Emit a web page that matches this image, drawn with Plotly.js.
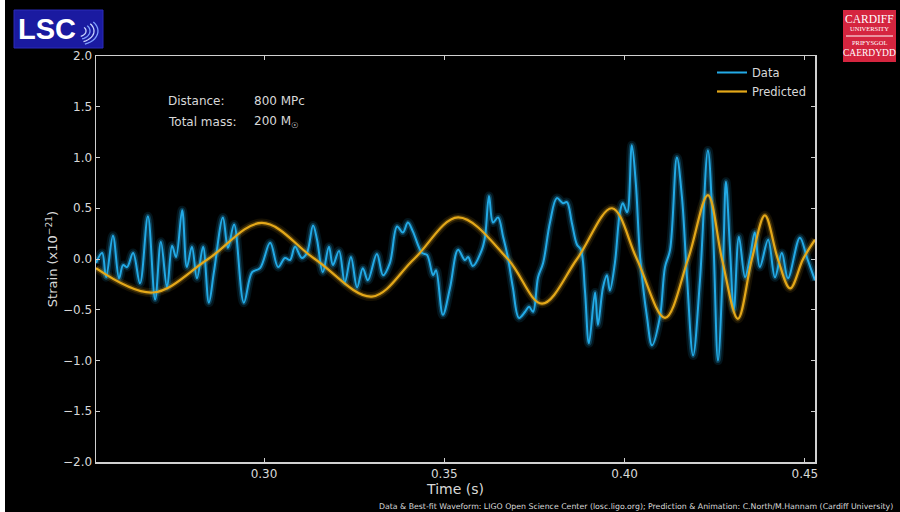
<!DOCTYPE html>
<html>
<head>
<meta charset="utf-8">
<script src="https://cdn.plot.ly/plotly-3.0.1.min.js"></script>
<style>
  html, body { margin: 0; padding: 0; background: #ffffff; }
  #chart { position: absolute; left: 5px; top: 0; width: 895px; height: 512px; background: #000; }
</style>
</head>
<body>
<div id="chart"></div>
<script>
// ---- Data ----
const dataTime = [
  0.2534,0.2551,0.2562,0.2581,0.2598,0.2609,0.2620,0.2637,0.2656,0.2678,
  0.2698,0.2714,0.2731,0.2745,0.2756,0.2773,0.2786,0.2800,0.2814,0.2831,
  0.2847,0.2861,0.2886,0.2900,0.2917,0.2944,0.2967,0.2989,0.3017,0.3039,
  0.3058,0.3072,0.3086,0.3105,0.3119,0.3136,0.3147,0.3163,0.3180,0.3191,
  0.3208,0.3224,0.3241,0.3258,0.3274,0.3288,0.3313,0.3330,0.3349,0.3369,
  0.3385,0.3399,0.3413,0.3438,0.3452,0.3469,0.3477,0.3496,0.3516,0.3538,
  0.3557,0.3566,0.3579,0.3604,0.3613,0.3624,0.3635,0.3649,0.3663,0.3676,
  0.3690,0.3707,0.3724,0.3735,0.3746,0.3760,0.3774,0.3793,0.3812,0.3829,
  0.3840,0.3854,0.3868,0.3879,0.3890,0.3901,0.3918,0.3926,0.3940,0.3951,
  0.3959,0.3973,0.3987,0.3995,0.4007,0.4020,0.4031,0.4043,0.4062,0.4076,
  0.4098,0.4112,0.4126,0.4145,0.4159,0.4173,0.4190,0.4209,0.4231,0.4245,
  0.4259,0.4273,0.4281,0.4292,0.4303,0.4317,0.4334,0.4348,0.4361,0.4375,
  0.4398,0.4417,0.4436,0.4453,0.4486,0.4506,0.4528
];
const dataStrain = [
  -0.04,0.06,-0.18,0.23,-0.19,-0.06,-0.08,0.06,-0.24,0.42,
  -0.40,0.17,-0.28,0.13,0.02,0.48,-0.08,0.12,-0.19,0.12,
  -0.43,-0.13,0.41,0.11,0.34,-0.43,-0.13,-0.09,0.16,-0.08,
  0.01,-0.01,0.12,0.01,0.06,0.33,0.19,-0.13,0.12,-0.06,
  0.08,-0.23,0.02,-0.28,-0.09,-0.21,0.05,-0.16,-0.04,0.32,
  0.26,0.36,0.27,0.06,0.04,-0.16,-0.11,-0.55,-0.28,0.09,
  -0.01,0.02,-0.07,0.09,0.22,0.62,0.36,0.41,0.22,0.02,
  -0.28,-0.58,-0.52,-0.47,-0.52,-0.18,-0.04,0.36,0.60,0.55,
  0.56,0.35,0.14,0.09,-0.31,-0.83,-0.33,-0.65,-0.28,-0.16,
  -0.31,-0.04,0.46,0.55,0.46,1.12,0.75,0.02,-0.57,-0.85,
  -0.57,-0.08,0.09,1.00,0.61,-0.18,-0.95,-0.21,1.07,0.29,
  -1.00,-0.04,0.76,0.12,-0.50,0.22,-0.18,0.02,0.26,-0.08,
  0.19,-0.18,0.06,-0.19,0.21,0.01,-0.21
];
const predTime = [
  0.2534,0.2692,0.2845,0.2994,0.3141,0.3299,0.3416,0.3538,0.3676,0.3771,
  0.3868,0.3965,0.4034,0.4112,0.4176,0.4231,0.4270,0.4314,0.4353,0.4389,
  0.4425,0.4459,0.4495,0.4528
];
const predStrain = [
  -0.09,-0.33,0.00,0.355,0.00,-0.37,0.00,0.41,0.00,-0.44,
  0.00,0.50,0.00,-0.58,0.00,0.63,0.00,-0.59,0.00,0.43,
  0.00,-0.29,0.00,0.19
];
const seriesNames = ["Data", "Predicted"];
const xTickVals = [0.30, 0.35, 0.40, 0.45];
const xTickText = ["0.30", "0.35", "0.40", "0.45"];
const yTickVals = [-2.0, -1.5, -1.0, -0.5, 0.0, 0.5, 1.0, 1.5, 2.0];
const yTickText = ["\u22122.0","\u22121.5","\u22121.0","\u22120.5","0.0","0.5","1.0","1.5","2.0"];

// ---- Styling ----
const blue = "rgb(35,170,230)";
const gold = "rgb(228,168,25)";
const textCol = "#d8d8d8";
const FONT = "DejaVu Sans, sans-serif";

const L = 91, R = 810, T = 56, B = 462;
const W = 895;
function px(x) { return (x - 5 - L) / (R - L); }   // page x -> paper
function py(y) { return (B - y) / (B - T); }       // page y -> paper

function glow(x, y, name, color, w, op) {
  return { x: x, y: y, name: name, legendgroup: name, type: "scatter", mode: "lines", showlegend: false, hoverinfo: "skip",
           line: { color: color, width: w, shape: "spline", smoothing: 1.0 }, opacity: op };
}

const traces = [
  glow(predTime, predStrain, seriesNames[1], gold, 9, 0.10),
  glow(predTime, predStrain, seriesNames[1], gold, 5, 0.25),
  glow(dataTime, dataStrain, seriesNames[0], blue, 9, 0.12),
  glow(dataTime, dataStrain, seriesNames[0], blue, 5, 0.28),
  { x: dataTime, y: dataStrain, type: "scatter", mode: "lines", name: seriesNames[0], legendgroup: seriesNames[0],
    line: { color: blue, width: 2, shape: "spline", smoothing: 1.0 }, legendrank: 1 },
  { x: predTime, y: predStrain, type: "scatter", mode: "lines", name: seriesNames[1], legendgroup: seriesNames[1],
    line: { color: gold, width: 2.2, shape: "spline", smoothing: 1.0 }, legendrank: 2 }
];

function arc(cx, cy, r, a0, a1) {
  const p = [];
  for (let i = 0; i <= 12; i++) {
    const a = (a0 + (a1 - a0) * i / 12) * Math.PI / 180;
    p.push((i ? "L" : "M") + px(cx + r * Math.cos(a)).toFixed(4) + "," + py(cy - r * Math.sin(a) * 0.7).toFixed(4));
  }
  return p.join(" ");
}

const shapes = [
  { type: "rect", xref: "paper", yref: "paper", x0: px(14), x1: px(103), y0: py(48), y1: py(10),
    fillcolor: "#1a1aa0", line: { color: "#2a2ab8", width: 1 }, layer: "above" }
];
[8, 12, 16, 20].forEach((r, i) => {
  shapes.push({ type: "path", xref: "paper", yref: "paper", path: arc(78, 31, r, -70, 40),
    line: { color: i % 2 ? "#7fa0ff" : "#c8d4ff", width: 1.3 }, layer: "above" });
});
shapes.push({ type: "rect", xref: "paper", yref: "paper", x0: px(843), x1: px(896), y0: py(62), y1: py(10),
  fillcolor: "#d5253f", line: { width: 0 }, layer: "above" });
shapes.push({ type: "line", xref: "paper", yref: "paper", x0: px(846), x1: px(893), y0: py(36), y1: py(36),
  line: { color: "#ffffff", width: 1 }, layer: "above" });

const ann = (text, x, y, size, opts) => Object.assign({
  text: text, xref: "paper", yref: "paper", x: px(x), y: py(y), showarrow: false,
  xanchor: "left", yanchor: "middle", font: { family: FONT, size: size, color: textCol }
}, opts || {});

const annotations = [
  ann("Distance:", 166, 101, 12),
  ann("800 MPc", 252, 101, 12),
  ann("Total mass:", 166, 122, 12),
  ann("200 M<sub>\u2609</sub>", 252, 122, 12),
  ann("Data &amp; Best-fit Waveform: LIGO Open Science Center (losc.ligo.org); Prediction &amp; Animation: C.North/M.Hannam (Cardiff University)",
      895, 506, 7.8, { xanchor: "right" }),
  ann("<b>LSC</b>", 16, 29, 29, { font: { family: "Liberation Sans, Arial, sans-serif", size: 29, color: "#ffffff" } }),
  ann("CARDIFF", 869.5, 19, 11.5, { xanchor: "center", font: { family: "Liberation Serif, serif", size: 11.5, color: "#ffffff" } }),
  ann("UNIVERSITY", 869.5, 29, 6.5, { xanchor: "center", font: { family: "Liberation Serif, serif", size: 6.5, color: "#ffffff" } }),
  ann("PRIFYSGOL", 869.5, 43, 6.5, { xanchor: "center", font: { family: "Liberation Serif, serif", size: 6.5, color: "#ffffff" } }),
  ann("CAERDYDD", 869.5, 53, 9.5, { xanchor: "center", font: { family: "Liberation Serif, serif", size: 9.5, color: "#ffffff" } })
];

const axisCommon = {
  showline: true, linecolor: "#d0d0d0", linewidth: 1.5, mirror: "ticks",
  ticks: "inside", ticklen: 4, tickwidth: 1, tickcolor: "#d0d0d0",
  showgrid: false, zeroline: false,
  tickfont: { family: FONT, size: 12, color: textCol }
};

const layout = {
  width: W, height: 512,
  paper_bgcolor: "#000000", plot_bgcolor: "#000000",
  margin: { l: L, r: W - R, t: T, b: 512 - B, pad: 0 },
  showlegend: true,
  legend: { x: px(712), y: py(58), xanchor: "left", yanchor: "top", bgcolor: "rgba(0,0,0,0)",
            font: { family: FONT, size: 11.5, color: textCol }, tracegroupgap: 0, itemwidth: 30 },
  xaxis: Object.assign({}, axisCommon, {
    range: [0.2534, 0.4528], tickvals: xTickVals, ticktext: xTickText,
    title: { text: "Time (s)", font: { family: FONT, size: 14, color: textCol }, standoff: 0 }
  }),
  yaxis: Object.assign({}, axisCommon, {
    range: [-2.0, 2.0], tickvals: yTickVals, ticktext: yTickText,
    title: { text: "Strain (x10<sup>\u221221</sup>)", font: { family: FONT, size: 13, color: textCol }, standoff: 2 }
  }),
  shapes: shapes,
  annotations: annotations
};

Plotly.newPlot("chart", traces, layout, { displayModeBar: false, staticPlot: true });
</script>
</body>
</html>
